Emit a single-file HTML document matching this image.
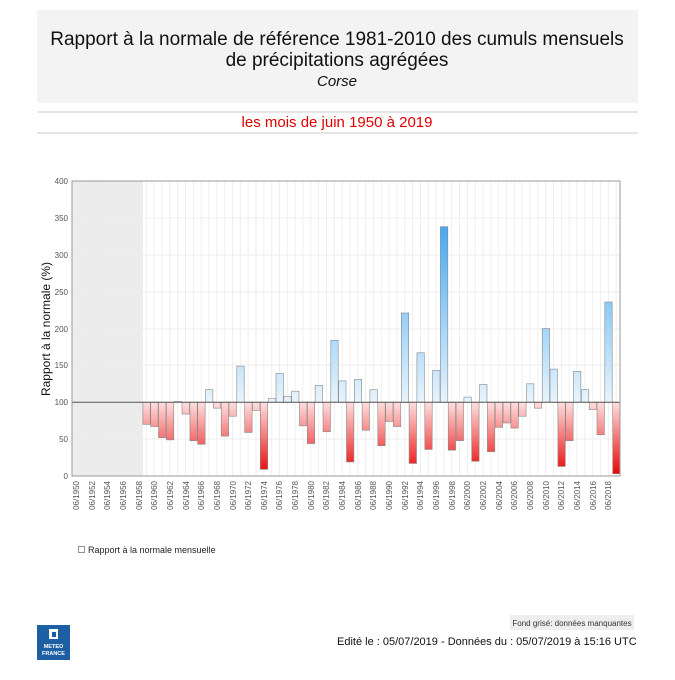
<!DOCTYPE html><html><head><meta charset="utf-8"><style>
body{margin:0;background:#fff;font-family:"Liberation Sans",Arial,sans-serif}
</style></head><body>
<svg width="675" height="675" xmlns="http://www.w3.org/2000/svg" font-family="Liberation Sans, Arial, sans-serif">
<defs>
<linearGradient id="gb" gradientUnits="userSpaceOnUse" x1="0" y1="402" x2="0" y2="200"><stop offset="0" stop-color="#e8f4fd"/><stop offset="1" stop-color="#2e9ef0"/></linearGradient>
<linearGradient id="gr" gradientUnits="userSpaceOnUse" x1="0" y1="402" x2="0" y2="476"><stop offset="0" stop-color="#ffe0e0"/><stop offset="1" stop-color="#e80000"/></linearGradient>
<pattern id="vp" patternUnits="userSpaceOnUse" x="72" y="0" width="7.83" height="675"><line x1="3.9" y1="0" x2="3.9" y2="675" stroke="#ebebeb" stroke-width="0.8"/></pattern>
</defs>
<rect x="37" y="10" width="601" height="93" fill="#f3f3f3"/>
<text x="337" y="45" font-size="19" text-anchor="middle" fill="#111">Rapport à la normale de référence 1981-2010 des cumuls mensuels</text>
<text x="337" y="66" font-size="19" text-anchor="middle" fill="#111">de précipitations agrégées</text>
<text x="337" y="86" font-size="15" font-style="italic" text-anchor="middle" fill="#111">Corse</text>
<line x1="37" y1="112" x2="638" y2="112" stroke="#ccc"/>
<line x1="37" y1="133" x2="638" y2="133" stroke="#ccc"/>
<text x="337" y="127" font-size="15" text-anchor="middle" fill="#e00000">les mois de juin 1950 à 2019</text>
<rect x="72" y="181" width="71" height="295" fill="#ececec"/>
<rect x="72" y="181" width="548" height="295" fill="url(#vp)"/>
<g stroke="#eee" stroke-width="1">
<line x1="72" x2="620" y1="218" y2="218"/><line x1="72" x2="620" y1="255" y2="255"/><line x1="72" x2="620" y1="292" y2="292"/><line x1="72" x2="620" y1="329" y2="329"/><line x1="72" x2="620" y1="365" y2="365"/><line x1="72" x2="620" y1="439" y2="439"/>
</g>
<g stroke="#888" stroke-width="0.6">
<rect x="142.9" y="402.25" width="7.4" height="22.1" fill="url(#gr)"/>
<rect x="150.7" y="402.25" width="7.4" height="24.3" fill="url(#gr)"/>
<rect x="158.5" y="402.25" width="7.4" height="35.4" fill="url(#gr)"/>
<rect x="166.4" y="402.25" width="7.4" height="37.6" fill="url(#gr)"/>
<rect x="174.2" y="401.5" width="7.4" height="0.7" fill="url(#gb)"/>
<rect x="182.0" y="402.25" width="7.4" height="11.8" fill="url(#gr)"/>
<rect x="189.9" y="402.25" width="7.4" height="38.4" fill="url(#gr)"/>
<rect x="197.7" y="402.25" width="7.4" height="42.0" fill="url(#gr)"/>
<rect x="205.5" y="389.7" width="7.4" height="12.5" fill="url(#gb)"/>
<rect x="213.3" y="402.25" width="7.4" height="5.9" fill="url(#gr)"/>
<rect x="221.2" y="402.25" width="7.4" height="33.9" fill="url(#gr)"/>
<rect x="229.0" y="402.25" width="7.4" height="14.0" fill="url(#gr)"/>
<rect x="236.8" y="366.1" width="7.4" height="36.1" fill="url(#gb)"/>
<rect x="244.7" y="402.25" width="7.4" height="30.2" fill="url(#gr)"/>
<rect x="252.5" y="402.25" width="7.4" height="8.1" fill="url(#gr)"/>
<rect x="260.3" y="402.25" width="7.4" height="67.1" fill="url(#gr)"/>
<rect x="268.2" y="398.6" width="7.4" height="3.7" fill="url(#gb)"/>
<rect x="276.0" y="373.5" width="7.4" height="28.8" fill="url(#gb)"/>
<rect x="283.8" y="396.4" width="7.4" height="5.9" fill="url(#gb)"/>
<rect x="291.6" y="391.2" width="7.4" height="11.1" fill="url(#gb)"/>
<rect x="299.5" y="402.25" width="7.4" height="23.6" fill="url(#gr)"/>
<rect x="307.3" y="402.25" width="7.4" height="41.3" fill="url(#gr)"/>
<rect x="315.1" y="385.3" width="7.4" height="17.0" fill="url(#gb)"/>
<rect x="323.0" y="402.25" width="7.4" height="29.5" fill="url(#gr)"/>
<rect x="330.8" y="340.3" width="7.4" height="61.9" fill="url(#gb)"/>
<rect x="338.6" y="380.9" width="7.4" height="21.4" fill="url(#gb)"/>
<rect x="346.5" y="402.25" width="7.4" height="59.7" fill="url(#gr)"/>
<rect x="354.3" y="379.4" width="7.4" height="22.9" fill="url(#gb)"/>
<rect x="362.1" y="402.25" width="7.4" height="28.0" fill="url(#gr)"/>
<rect x="369.9" y="389.7" width="7.4" height="12.5" fill="url(#gb)"/>
<rect x="377.8" y="402.25" width="7.4" height="43.5" fill="url(#gr)"/>
<rect x="385.6" y="402.25" width="7.4" height="19.2" fill="url(#gr)"/>
<rect x="393.4" y="402.25" width="7.4" height="24.3" fill="url(#gr)"/>
<rect x="401.3" y="313.0" width="7.4" height="89.3" fill="url(#gb)"/>
<rect x="409.1" y="402.25" width="7.4" height="61.2" fill="url(#gr)"/>
<rect x="416.9" y="352.8" width="7.4" height="49.4" fill="url(#gb)"/>
<rect x="424.8" y="402.25" width="7.4" height="47.2" fill="url(#gr)"/>
<rect x="432.6" y="370.5" width="7.4" height="31.7" fill="url(#gb)"/>
<rect x="440.4" y="226.7" width="7.4" height="175.6" fill="url(#gb)"/>
<rect x="448.2" y="402.25" width="7.4" height="47.9" fill="url(#gr)"/>
<rect x="456.1" y="402.25" width="7.4" height="38.4" fill="url(#gr)"/>
<rect x="463.9" y="397.1" width="7.4" height="5.2" fill="url(#gb)"/>
<rect x="471.7" y="402.25" width="7.4" height="59.0" fill="url(#gr)"/>
<rect x="479.6" y="384.5" width="7.4" height="17.7" fill="url(#gb)"/>
<rect x="487.4" y="402.25" width="7.4" height="49.4" fill="url(#gr)"/>
<rect x="495.2" y="402.25" width="7.4" height="25.1" fill="url(#gr)"/>
<rect x="503.1" y="402.25" width="7.4" height="20.7" fill="url(#gr)"/>
<rect x="510.9" y="402.25" width="7.4" height="25.8" fill="url(#gr)"/>
<rect x="518.7" y="402.25" width="7.4" height="14.0" fill="url(#gr)"/>
<rect x="526.5" y="383.8" width="7.4" height="18.4" fill="url(#gb)"/>
<rect x="534.4" y="402.25" width="7.4" height="5.9" fill="url(#gr)"/>
<rect x="542.2" y="328.5" width="7.4" height="73.7" fill="url(#gb)"/>
<rect x="550.0" y="369.1" width="7.4" height="33.2" fill="url(#gb)"/>
<rect x="557.9" y="402.25" width="7.4" height="64.2" fill="url(#gr)"/>
<rect x="565.7" y="402.25" width="7.4" height="38.4" fill="url(#gr)"/>
<rect x="573.5" y="371.3" width="7.4" height="31.0" fill="url(#gb)"/>
<rect x="581.4" y="389.7" width="7.4" height="12.5" fill="url(#gb)"/>
<rect x="589.2" y="402.25" width="7.4" height="7.4" fill="url(#gr)"/>
<rect x="597.0" y="402.25" width="7.4" height="32.5" fill="url(#gr)"/>
<rect x="604.8" y="302.0" width="7.4" height="100.3" fill="url(#gb)"/>
<rect x="612.7" y="402.25" width="7.4" height="71.5" fill="url(#gr)"/>
</g>
<line x1="72" y1="402.25" x2="620" y2="402.25" stroke="#555" stroke-width="1"/>
<rect x="72" y="181" width="548" height="295" fill="none" stroke="#999"/>
<g font-size="8" fill="#555" text-anchor="end">
<text x="68" y="184">400</text><text x="68" y="221">350</text><text x="68" y="258">300</text><text x="68" y="295">250</text><text x="68" y="332">200</text><text x="68" y="368">150</text><text x="68" y="405">100</text><text x="68" y="442">50</text><text x="68" y="479">0</text>
</g>
<text transform="translate(50,329) rotate(-90)" font-size="12" text-anchor="middle" fill="#111">Rapport à la normale (%)</text>
<g font-size="8" fill="#555" text-anchor="end">
<text transform="translate(79,481) rotate(-90)">06/1950</text>
<text transform="translate(95,481) rotate(-90)">06/1952</text>
<text transform="translate(110,481) rotate(-90)">06/1954</text>
<text transform="translate(126,481) rotate(-90)">06/1956</text>
<text transform="translate(142,481) rotate(-90)">06/1958</text>
<text transform="translate(157,481) rotate(-90)">06/1960</text>
<text transform="translate(173,481) rotate(-90)">06/1962</text>
<text transform="translate(189,481) rotate(-90)">06/1964</text>
<text transform="translate(204,481) rotate(-90)">06/1966</text>
<text transform="translate(220,481) rotate(-90)">06/1968</text>
<text transform="translate(236,481) rotate(-90)">06/1970</text>
<text transform="translate(251,481) rotate(-90)">06/1972</text>
<text transform="translate(267,481) rotate(-90)">06/1974</text>
<text transform="translate(282,481) rotate(-90)">06/1976</text>
<text transform="translate(298,481) rotate(-90)">06/1978</text>
<text transform="translate(314,481) rotate(-90)">06/1980</text>
<text transform="translate(329,481) rotate(-90)">06/1982</text>
<text transform="translate(345,481) rotate(-90)">06/1984</text>
<text transform="translate(361,481) rotate(-90)">06/1986</text>
<text transform="translate(376,481) rotate(-90)">06/1988</text>
<text transform="translate(392,481) rotate(-90)">06/1990</text>
<text transform="translate(408,481) rotate(-90)">06/1992</text>
<text transform="translate(423,481) rotate(-90)">06/1994</text>
<text transform="translate(439,481) rotate(-90)">06/1996</text>
<text transform="translate(455,481) rotate(-90)">06/1998</text>
<text transform="translate(470,481) rotate(-90)">06/2000</text>
<text transform="translate(486,481) rotate(-90)">06/2002</text>
<text transform="translate(502,481) rotate(-90)">06/2004</text>
<text transform="translate(517,481) rotate(-90)">06/2006</text>
<text transform="translate(533,481) rotate(-90)">06/2008</text>
<text transform="translate(549,481) rotate(-90)">06/2010</text>
<text transform="translate(564,481) rotate(-90)">06/2012</text>
<text transform="translate(580,481) rotate(-90)">06/2014</text>
<text transform="translate(596,481) rotate(-90)">06/2016</text>
<text transform="translate(611,481) rotate(-90)">06/2018</text>
</g>
<rect x="78.5" y="546.5" width="6" height="6" fill="none" stroke="#777" stroke-width="0.8"/>
<text x="88" y="553" font-size="9" fill="#222">Rapport à la normale mensuelle</text>
<rect x="510" y="615" width="124" height="15" fill="#eee"/>
<text x="572" y="626" font-size="8" text-anchor="middle" fill="#333">Fond grisé: données manquantes</text>
<text x="337" y="645" font-size="11" fill="#111">Edité le : 05/07/2019 - Données du : 05/07/2019 à 15:16 UTC</text>
<rect x="37" y="625" width="33" height="35" fill="#1d5fa3"/>
<rect x="49" y="629" width="9" height="10" fill="#fff"/><rect x="52" y="632" width="4" height="5" fill="#1d5fa3"/>
<text x="53.5" y="648" font-size="5.5" font-weight="bold" fill="#fff" text-anchor="middle">METEO</text>
<text x="53.5" y="655" font-size="5.5" font-weight="bold" fill="#fff" text-anchor="middle">FRANCE</text>
</svg>
</body></html>
